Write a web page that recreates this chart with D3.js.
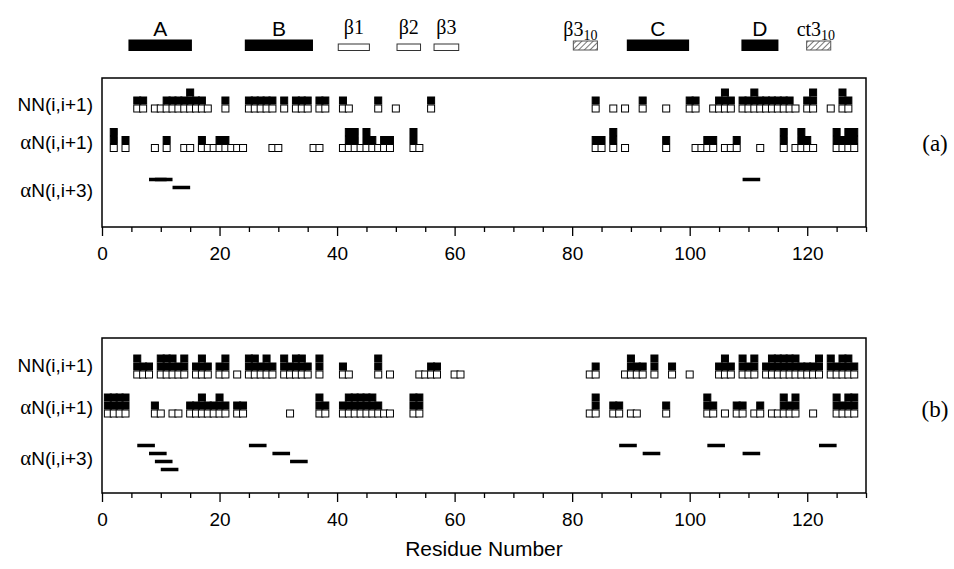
<!DOCTYPE html>
<html>
<head>
<meta charset="utf-8">
<script src="https://cdn.jsdelivr.net/npm/d3@7"></script>
<style>
  body { margin: 0; background: #fff; }
  text { font-family: "Liberation Sans", Arial, sans-serif; fill: #000; }
  .serif { font-family: "Liberation Serif", "Times New Roman", serif; }
</style>
</head>
<body>
<svg id="chart" width="954" height="569"></svg>
<script>
"use strict";

// secondary structure elements: label, first residue, last residue, kind
var structLabels = ["A", "B", "β1", "β2", "β3", "β3", "C", "D", "ct3"];
var structStart  = [4.5, 24.3, 40.2, 50.2, 56.5, 80.2, 89.3, 108.8, 119.9];
var structEnd    = [15.3, 35.9, 45.5, 54.2, 60.7, 84.3, 99.9, 115.1, 124];
var structKind   = ["helix", "helix", "strand", "strand", "strand", "h310", "helix", "helix", "h310"];

// NOE connectivities: [residue, intensity] (1 = weak, 2 = medium, 3 = strong)
var nnA = [[6,2],[7,2],[9,1],[10,1],[11,2],[12,2],[13,2],[14,2],[15,3],[16,2],[17,2],[18,1],
  [21,2],[25,2],[26,2],[27,2],[28,2],[29,2],[31,2],[33,2],[34,2],[35,2],[37,2],[38,2],
  [41,2],[42,1],[47,2],[50,1],[56,2],[84,2],[87,1],[89,1],[92,2],[96,1],[100,2],[101,2],
  [104,1],[105,2],[106,3],[107,2],[109,2],[110,2],[111,3],[112,2],[113,2],[114,2],[115,2],
  [116,2],[117,2],[118,1],[120,2],[121,3],[124,1],[126,3],[127,2]];
var anA = [[2,3],[4,2],[9,1],[11,2],[14,1],[15,1],[17,2],[18,1],[19,1],[20,2],[21,2],[22,1],
  [23,1],[24,1],[29,1],[30,1],[36,1],[37,1],[41,1],[42,3],[43,3],[44,1],[45,3],[46,2],[47,1],
  [48,2],[49,2],[53,3],[54,1],[84,2],[85,2],[87,3],[89,1],[96,2],[101,1],[102,1],[103,2],
  [104,2],[106,1],[107,1],[108,2],[112,1],[116,3],[118,1],[119,3],[120,2],[121,1],
  [125,3],[126,2],[127,3],[128,3]];
// alphaN(i,i+3): [i, row]
var an3A = [[8,0],[9,0],[12,1],[109,0]];

var nnB = [[6,3],[7,2],[8,2],[10,3],[11,3],[12,3],[13,2],[14,3],[16,2],[17,3],[18,2],
  [20,2],[21,3],[23,1],[25,3],[26,3],[27,2],[28,3],[29,2],[31,3],[32,2],[33,3],[34,3],[35,2],
  [37,3],[41,2],[42,1],[47,3],[49,1],[54,1],[55,1],[56,2],[57,2],[60,1],[61,1],
  [83,1],[84,2],[89,1],[90,3],[91,2],[92,2],[94,3],[97,2],[100,1],[105,2],[106,3],[107,2],
  [109,3],[110,2],[111,3],[113,2],[114,3],[115,3],[116,3],[117,3],[118,3],[119,2],[120,2],
  [121,2],[122,3],[124,3],[125,2],[126,3],[127,3],[128,2]];
var anB = [[1,3],[2,3],[3,3],[4,3],[9,2],[10,1],[12,1],[13,1],[15,2],[16,2],[17,3],[18,2],
  [19,2],[20,3],[21,2],[23,2],[24,2],[32,1],[37,3],[38,2],[41,2],[42,3],[43,3],[44,3],[45,3],
  [46,3],[47,2],[48,1],[49,1],[53,3],[54,3],[83,1],[84,3],[87,2],[88,2],[90,1],[91,1],[96,2],
  [103,3],[104,2],[106,1],[108,2],[109,2],[111,1],[112,2],[114,1],[115,1],[116,3],[117,2],
  [118,3],[121,1],[125,3],[126,2],[127,3],[128,3]];
var an3B = [[6,0],[8,1],[9,2],[10,3],[25,0],[29,1],[32,2],[88,0],[92,1],[103,0],[109,1],[122,0]];

var rowLabels = ["NN(i,i+1)", "N(i,i+1)", "N(i,i+3)"];
var majorTicks = [0, 20, 40, 60, 80, 100, 120];

var svg = d3.select("#chart");
var x = d3.scaleLinear().domain([0, 130]).range([102, 866]);

var cellW = 7, cellH = 8, barH = 3.5, barStep = 8;

// hatch pattern for 3-10 helices
var pat = svg.append("defs").append("pattern")
  .attr("id", "hatch")
  .attr("patternUnits", "userSpaceOnUse")
  .attr("width", 4).attr("height", 4)
  .attr("patternTransform", "rotate(45)");
pat.append("rect").attr("width", 4).attr("height", 4).attr("fill", "#fff");
pat.append("line").attr("x1", 0).attr("y1", 0).attr("x2", 0).attr("y2", 4)
  .attr("stroke", "#555").attr("stroke-width", 1.6);

// secondary structure strip
var sg = svg.append("g").attr("class", "structure");
structLabels.forEach(function (lab, i) {
  var x0 = x(structStart[i]), x1 = x(structEnd[i]), kind = structKind[i];
  var cx = (x0 + x1) / 2;
  if (kind === "helix") {
    sg.append("rect").attr("x", x0).attr("y", 39.5).attr("width", x1 - x0).attr("height", 11.5)
      .attr("fill", "#000");
    sg.append("text").attr("x", cx).attr("y", 36).attr("text-anchor", "middle")
      .style("font-size", "21px").text(lab);
  } else if (kind === "strand") {
    sg.append("rect").attr("x", x0).attr("y", 44).attr("width", x1 - x0).attr("height", 6.5)
      .attr("fill", "#fff").attr("stroke", "#333").attr("stroke-width", 1);
    sg.append("text").attr("class", "serif").attr("x", cx).attr("y", 34)
      .attr("text-anchor", "middle").style("font-size", "20px").text(lab);
  } else {
    sg.append("rect").attr("x", x0).attr("y", 41).attr("width", x1 - x0).attr("height", 9)
      .attr("fill", "url(#hatch)").attr("stroke", "#555").attr("stroke-width", 1);
    var t = sg.append("text").attr("class", "serif").attr("x", x0 - 10).attr("y", 36)
      .style("font-size", "20px");
    t.append("tspan").text(lab);
    t.append("tspan").attr("dy", 4).style("font-size", "14px").text("10");
  }
});

var panels = [
  { tag: "(a)", top: 78, bottom: 227, nn: nnA, an: anA, an3: an3A,
    nnBase: 112.5, anBase: 152, an3Top: 179.5, labelY: [104, 142, 190], tagY: 143 },
  { tag: "(b)", top: 338, bottom: 493, nn: nnB, an: anB, an3: an3B,
    nnBase: 378.5, anBase: 417.5, an3Top: 445.5, labelY: [365, 407, 458], tagY: 409 }
];

function cells(list) {
  var out = [];
  list.forEach(function (d) {
    for (var k = 0; k < d[1]; k++) out.push({ r: d[0], k: k });
  });
  return out;
}

function drawStack(g, list, base) {
  g.append("g").selectAll("rect")
    .data(cells(list))
    .join("rect")
    .attr("x", function (d) { return x(d.r) - cellW / 2; })
    .attr("y", function (d) { return base - (d.k + 1) * cellH + 0.5; })
    .attr("width", cellW)
    .attr("height", cellH - 1)
    .attr("fill", function (d) { return d.k ? "#000" : "#fff"; })
    .attr("stroke", "#000")
    .attr("stroke-width", 1);
}

panels.forEach(function (p) {
  var g = svg.append("g");

  drawStack(g, p.nn, p.nnBase);
  drawStack(g, p.an, p.anBase);

  g.append("g").selectAll("rect")
    .data(p.an3)
    .join("rect")
    .attr("x", function (d) { return x(d[0]); })
    .attr("y", function (d) { return p.an3Top + d[1] * barStep - barH / 2; })
    .attr("width", function (d) { return x(d[0] + 3) - x(d[0]); })
    .attr("height", barH)
    .attr("fill", "#000");

  // frame
  g.append("rect")
    .attr("x", x(0)).attr("y", p.top)
    .attr("width", x(130) - x(0)).attr("height", p.bottom - p.top)
    .attr("fill", "none").attr("stroke", "#000").attr("stroke-width", 1.5);

  // axis: minor then major ticks
  g.append("g")
    .attr("transform", "translate(0," + p.bottom + ")")
    .call(d3.axisBottom(x).tickValues(d3.range(0, 131, 5).filter(function (v) { return v % 20; }))
      .tickSize(5).tickFormat(""))
    .call(function (a) { a.select(".domain").remove(); a.selectAll("line").attr("stroke-width", 1.3); });
  g.append("g")
    .attr("transform", "translate(0," + p.bottom + ")")
    .call(d3.axisBottom(x).tickValues(majorTicks).tickSize(9).tickPadding(11))
    .call(function (a) {
      a.select(".domain").remove();
      a.selectAll("line").attr("stroke-width", 1.3);
      a.selectAll("text").style("font-size", "19px")
        .style("font-family", "'Liberation Sans', Arial, sans-serif");
    });

  // row labels
  rowLabels.forEach(function (lab, i) {
    var t = g.append("text").attr("x", 93).attr("y", p.labelY[i]).attr("dy", "0.35em")
      .attr("text-anchor", "end").style("font-size", "19px");
    if (i > 0) t.append("tspan").attr("class", "serif").style("font-size", "21px").text("α");
    t.append("tspan").text(lab);
  });

  g.append("text").attr("class", "serif").attr("x", 935).attr("y", p.tagY).attr("dy", "0.35em")
    .attr("text-anchor", "middle").style("font-size", "23px").text(p.tag);
});

svg.append("text").attr("x", (x(0) + x(130)) / 2).attr("y", 556)
  .attr("text-anchor", "middle").style("font-size", "21px").text("Residue Number");
</script>
</body>
</html>
